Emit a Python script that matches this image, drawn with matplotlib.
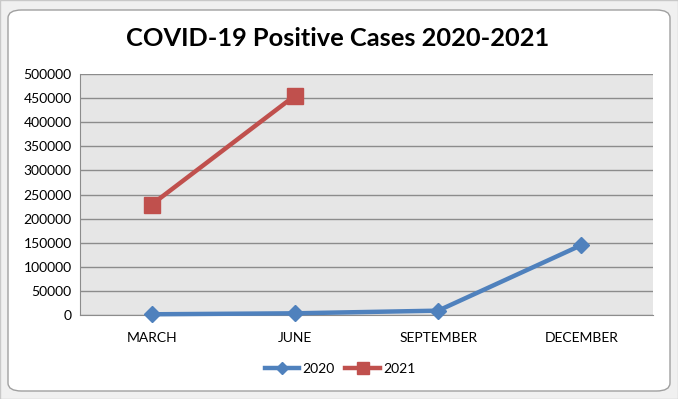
import matplotlib
matplotlib.use("Agg")
import matplotlib.pyplot as plt
from matplotlib.patches import FancyBboxPatch, Rectangle

months = ["MARCH", "JUNE", "SEPTEMBER", "DECEMBER"]
cases_2020 = [1500, 3500, 9000, 145000]
cases_2021 = [229000, 455000]

plt.rcParams['font.family'] = ['Lato', 'DejaVu Sans']

fig = plt.figure(figsize=(6.78, 3.99), dpi=100)
fig.patch.set_facecolor('#dcdcdc')

# chart frame (behind the axes)
fig.patches.append(Rectangle((0, 0), 1, 1, transform=fig.transFigure,
                             facecolor='#f0f0f0', edgecolor='#c8c8c8', lw=1, zorder=-2))
fig.patches.append(FancyBboxPatch((8/678, 8/399), 662/678, 381/399,
                                  boxstyle="round,pad=0,rounding_size=0.02",
                                  transform=fig.transFigure, facecolor='white',
                                  edgecolor='#a0a0a0', lw=1, zorder=-1))

ax = fig.add_axes([80/678, 84/399, 573/678, 241/399])
ax.set_facecolor('#e6e6e6')
x = list(range(len(months)))

ax.plot(x, cases_2020, color='#4f81bd', lw=3.2, marker='D', ms=8, label='2020', zorder=3,
        clip_on=False)
ax.plot(x[:len(cases_2021)], cases_2021, color='#c0504d', lw=3.2, marker='s', ms=11,
        label='2021', zorder=3, clip_on=False)

ax.set_xlim(-0.5, 3.5)
ax.set_ylim(0, 500000)
ax.set_yticks(range(0, 500001, 50000))
ax.set_yticklabels([str(v) for v in range(0, 500001, 50000)])
ax.set_xticks(x)
ax.set_xticklabels(months)
ax.grid(axis='y', color='#8c8c8c', lw=1)
ax.set_axisbelow(True)
ax.tick_params(length=0, labelsize=10, pad=6)
ax.tick_params(axis='x', pad=12)
for s in ['top', 'right']:
    ax.spines[s].set_visible(False)
ax.spines['left'].set_color('#8c8c8c')
ax.spines['bottom'].set_color('#8c8c8c')

fig.text(338/678, 1 - 38/399, "COVID-19 Positive Cases 2020-2021", ha='center', va='center',
         fontsize=18.3, fontweight='bold')

fig.legend(loc='center', bbox_to_anchor=(340/678, 1 - 369/399), ncol=2, frameon=False,
           fontsize=10, handlelength=2.5, columnspacing=0.8, handletextpad=0.2,
           markerscale=0.75)

plt.savefig("out.png", dpi=100, facecolor=fig.get_facecolor())
